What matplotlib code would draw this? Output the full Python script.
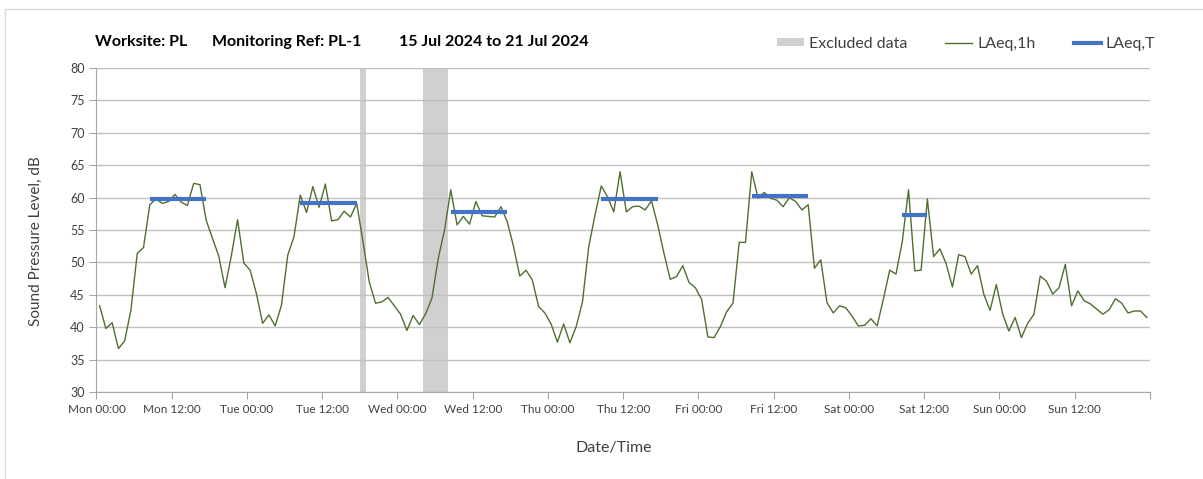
import numpy as np
import matplotlib.pyplot as plt
from matplotlib.patches import Patch, Rectangle
from matplotlib.lines import Line2D

plt.rcParams['font.family'] = ['Lato', 'DejaVu Sans']

# Stündliche Pegel LAeq,1h (Mo 00:00 bis So 23:00)
laeq_1h = [
    43.3, 39.8, 40.7, 36.7, 37.9, 42.7, 51.4, 52.3, 58.9, 59.8, 59.1, 59.4,
    60.5, 59.3, 58.8, 62.2, 62.0, 56.5, 53.7, 51.0, 46.1, 51.0, 56.6, 49.9,
    48.8, 45.2, 40.6, 41.9, 40.2, 43.4, 51.1, 54.0, 60.4, 57.7, 61.7, 58.5,
    62.1, 56.4, 56.6, 57.9, 57.0, 59.1, 53.2, 47.0, 43.7, 43.9, 44.6, 43.3,
    42.0, 39.5, 41.8, 40.4, 42.1, 44.5, 50.6, 55.0, 61.2, 55.8, 57.1, 55.9,
    59.4, 57.2, 57.1, 57.0, 58.6, 56.3, 52.5, 47.9, 48.8, 47.3, 43.2, 42.2,
    40.5, 37.7, 40.5, 37.6, 40.1, 43.9, 52.4, 57.3, 61.8, 60.1, 57.8, 64.0,
    57.8, 58.6, 58.7, 58.1, 59.5, 55.8, 51.4, 47.4, 47.8, 49.5, 46.9, 46.1,
    44.3, 38.5, 38.4, 40.1, 42.4, 43.7, 53.1, 53.1, 64.0, 59.9, 60.8, 59.9,
    59.6, 58.6, 60.0, 59.4, 58.1, 58.9, 49.1, 50.4, 43.8, 42.2, 43.3, 43.0,
    41.7, 40.2, 40.3, 41.3, 40.2, 44.4, 48.8, 48.2, 53.2, 61.2, 48.7, 48.8,
    59.8, 50.9, 52.1, 49.8, 46.2, 51.2, 50.9, 48.2, 49.5, 45.1, 42.6, 46.6,
    42.1, 39.4, 41.5, 38.4, 40.6, 42.0, 47.9, 47.1, 45.1, 46.1, 49.7, 43.3,
    45.6, 44.1, 43.6, 42.8, 42.0, 42.7, 44.4, 43.7, 42.2, 42.5, 42.5, 41.5,
]

# LAeq,T über die Arbeitszeit (Stundenindex Anfang/Ende)
laeqt_start = [8, 32, 56, 80, 104, 128]
laeqt_end = [17, 41, 65, 89, 113, 132]
laeqt_level = [59.8, 59.2, 57.8, 59.8, 60.3, 57.3]

# ausgeschlossene Zeiträume in Stunden ab Mo 00:00
excl_start = [42, 52]
excl_end = [43, 56]

tage = ['Mon', 'Tue', 'Wed', 'Thu', 'Fri', 'Sat', 'Sun']
tick_labels = ['%s %s' % (t, z) for t in tage for z in ['00:00', '12:00']] + ['']

stunden = np.arange(len(laeq_1h)) + 0.5

fig = plt.figure(figsize=(12.03, 4.79), dpi=100)
ax = fig.add_axes([0.0802, 0.1816, 0.8757, 0.6764])

# Rahmen des Diagrammbereichs
fig.patches.append(Rectangle((5 / 1203, -0.1), 2, 1.081, transform=fig.transFigure,
                             fill=False, ec='#d9d9d9', lw=1))

for s, e in zip(excl_start, excl_end):
    ax.axvspan(s, e, color='#d0d0d0', lw=0, zorder=1)

ax.plot(stunden, laeq_1h, color='#4f6f2f', lw=1, zorder=3)

for s, e, L in zip(laeqt_start, laeqt_end, laeqt_level):
    ax.plot([s + 0.5, e + 0.5], [L, L], color='#4472c4', lw=3,
            solid_capstyle='butt', zorder=4)

ax.set_xlim(0, 168)
ax.set_ylim(30, 80)
ax.set_xticks(np.arange(0, 169, 12))
ax.set_xticklabels(tick_labels)
ax.set_xticks(np.arange(0, 169, 24), minor=True)
ax.set_yticks(np.arange(30, 81, 5))

ax.grid(axis='x', which='minor', color='#d9d9d9', lw=1)
ax.grid(axis='y', which='major', color='#c0c0c0', lw=1)
ax.tick_params(axis='x', which='minor', length=0)
ax.tick_params(axis='both', which='major', length=5, color='#a6a6a6',
               labelsize=8.5, labelcolor='#404040')
ax.tick_params(axis='y', labelsize=9)

for sp in ['top', 'right']:
    ax.spines[sp].set_visible(False)
for sp in ['left', 'bottom']:
    ax.spines[sp].set_color('#a6a6a6')

# Titel
y_titel = 1 - 42 / 479
fig.text(95 / 1203, y_titel, 'Worksite: PL', fontsize=11.5, fontweight='bold', va='center')
fig.text(212 / 1203, y_titel, 'Monitoring Ref: PL-1', fontsize=11.5, fontweight='bold', va='center')
fig.text(399 / 1203, y_titel, '15 Jul 2024 to 21 Jul 2024', fontsize=11.5, fontweight='bold', va='center')

# Achsenbeschriftung
fig.text(36 / 1203, 1 - 241 / 479, 'Sound Pressure Level, dB', rotation=90,
         ha='center', va='center', fontsize=11, color='#404040')
fig.text(614 / 1203, 1 - 448 / 479, 'Date/Time', ha='center', va='center',
         fontsize=11.5, color='#404040')

# Legende
handles = [Patch(color='#d0d0d0', lw=0),
           Line2D([], [], color='#4f6f2f', lw=1),
           Line2D([], [], color='#4472c4', lw=3)]
fig.legend(handles, ['Excluded data', 'LAeq,1h', 'LAeq,T'], loc='center',
           bbox_to_anchor=(966 / 1203, 1 - 44 / 479), ncol=3, frameon=False,
           fontsize=11.5, handlelength=1.7, handleheight=0.4, handletextpad=0.3,
           columnspacing=2.4, labelcolor='#404040')

fig.savefig('out.png', dpi=100)
